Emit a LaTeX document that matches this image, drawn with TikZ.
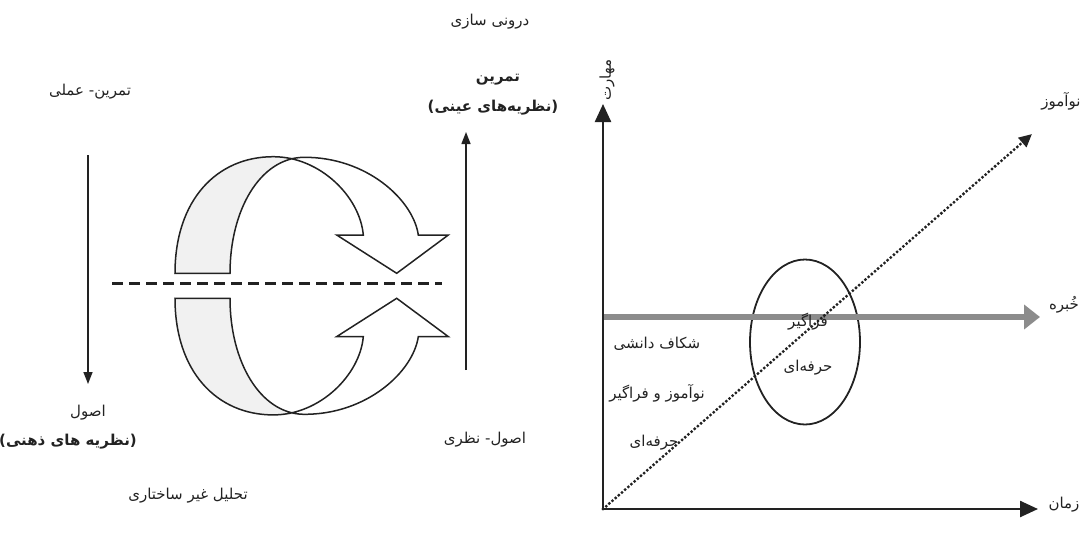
\documentclass[tikz,border=0pt]{standalone}
\usepackage{fontspec}
\usetikzlibrary{arrows.meta,shapes.geometric}
\newfontfamily\fa[Script=Arabic]{DejaVu Sans}
\newfontfamily\faplain{DejaVu Sans}
\TeXXeTstate=1
\newcommand{\rtl}[1]{{\fa\beginR #1\endR}}
\newcommand{\paren}[1]{{\faplain(}\rtl{#1}{\faplain)}}
\definecolor{ink}{HTML}{222222}
\definecolor{band}{HTML}{F1F1F1}
\tikzset{
  lbl/.style={inner sep=0pt, text=ink, font=\fa\fontsize{15}{17}\selectfont},
  blbl/.style={lbl, font=\fa\bfseries\fontsize{15}{17}\selectfont},
  vline/.style={draw=ink, line width=1.4pt, -{Triangle[length=12pt,width=9pt]}},
  ring/.style={draw=ink, line width=1.5pt, line join=miter},
  axis/.style={draw=ink, line width=2.4pt, -{Triangle[length=18pt,width=16pt]}},
  greyarrow/.style={draw=black!45, line width=6pt, -{Triangle[length=16pt,width=24pt]}},
  dotline/.style={draw=ink, line width=3.3pt, line cap=round, dash pattern=on 0pt off 4.2pt, -{Triangle[length=13pt,width=12pt]}},
  dashline/.style={draw=ink, line width=2.2pt, dash pattern=on 11pt off 6pt},
  oval/.style={draw=ink, line width=1.8pt, ellipse, minimum width=110pt, minimum height=165pt, inner sep=0pt}
}
\newcommand{\halfring}{%
  \fill[band] (175,-12.5) .. controls (175,-85.8) and (216.7,-129.1) .. (273.3,-129.1)
     -- (303.3,-128.5) .. controls (260,-127.5) and (230,-75.8) .. (230,-12.5) -- cycle;
  \draw[ring] (175,-12.5) .. controls (175,-85.8) and (216.7,-129.1) .. (273.3,-129.1)
     .. controls (320,-129.1) and (360,-89.1) .. (363.3,-50.8)
     -- (336.7,-50.8) -- (396.7,-12.5) -- (448.3,-50.8) -- (418.3,-50.8)
     .. controls (413.3,-85.8) and (366.7,-129.1) .. (303.3,-128.5)
     .. controls (260,-127.5) and (230,-75.8) .. (230,-12.5) -- cycle;
}
\begin{document}
\begin{tikzpicture}[x=1pt,y=-1pt]
\useasboundingbox (0,0) rectangle (1089,533);
% ---------- left diagram ----------
\begin{scope}[shift={(0,285.8)}]
  \halfring
\end{scope}
\begin{scope}[shift={(0,285.8)},yscale=-1]
  \halfring
\end{scope}
\coordinate (dl) at (112,283.5);
\coordinate (dr) at (442,283.5);
\draw[dashline] (dl) -- (dr);
\coordinate (la1) at (88,155);
\coordinate (la2) at (88,384);
\draw[vline] (la1) -- (la2);
\coordinate (ra1) at (466,370);
\coordinate (ra2) at (466,132);
\draw[vline] (ra1) -- (ra2);

\node[lbl] (t1) at (490,22) {\rtl{درونی سازی}};
\node[blbl] (t2) at (498,80) {\rtl{تمرین}};
\node[blbl] (t3) at (493,108) {\paren{نظریه‌های عینی}};
\node[lbl] (t4) at (90,92) {\rtl{تمرین\kern0pt-\kern0pt{} عملی}};
\node[lbl] (t5) at (88,413) {\rtl{اصول}};
\node[blbl] (t6) at (68,442) {\paren{نظریه های ذهنی}};
\node[lbl] (t7) at (188,496) {\rtl{تحلیل غیر ساختاری}};
\node[lbl] (t8) at (485,440) {\rtl{اصول\kern0pt-\kern0pt{} نظری}};

% ---------- right diagram ----------
\coordinate (O) at (603,509);
\coordinate (ytop) at (603,104);
\coordinate (xend) at (1038,509);
\coordinate (g0) at (603,317);
\coordinate (g1) at (1040,317);
\coordinate (dend) at (1032,134);
\node[oval] (E) at (805,342) {};
\draw[greyarrow] (g0) -- (g1);
\draw[dotline] (O) -- (dend);
\draw[axis] (O) -- (ytop);
\draw[axis] (O) -- (xend);

\node[lbl, rotate=90] (m) at (607,80) {\rtl{مهارت}};
\node[lbl] (n) at (1061,101) {\rtl{نوآموز}};
\node[lbl] (k) at (1064,305) {\rtl{خُبره}};
\node[lbl] (z) at (1064,505) {\rtl{زمان}};
\node[lbl] (e1) at (808,322) {\rtl{فراگیر}};
\node[lbl] (e2) at (808,368) {\rtl{حرفه‌ای}};
\node[lbl] (s1) at (657,344) {\rtl{شکاف دانشی}};
\node[lbl] (s2) at (657,393) {\rtl{نوآموز و فراگیر}};
\node[lbl] (s3) at (654,443) {\rtl{حرفه‌ای}};
\end{tikzpicture}
\end{document}
